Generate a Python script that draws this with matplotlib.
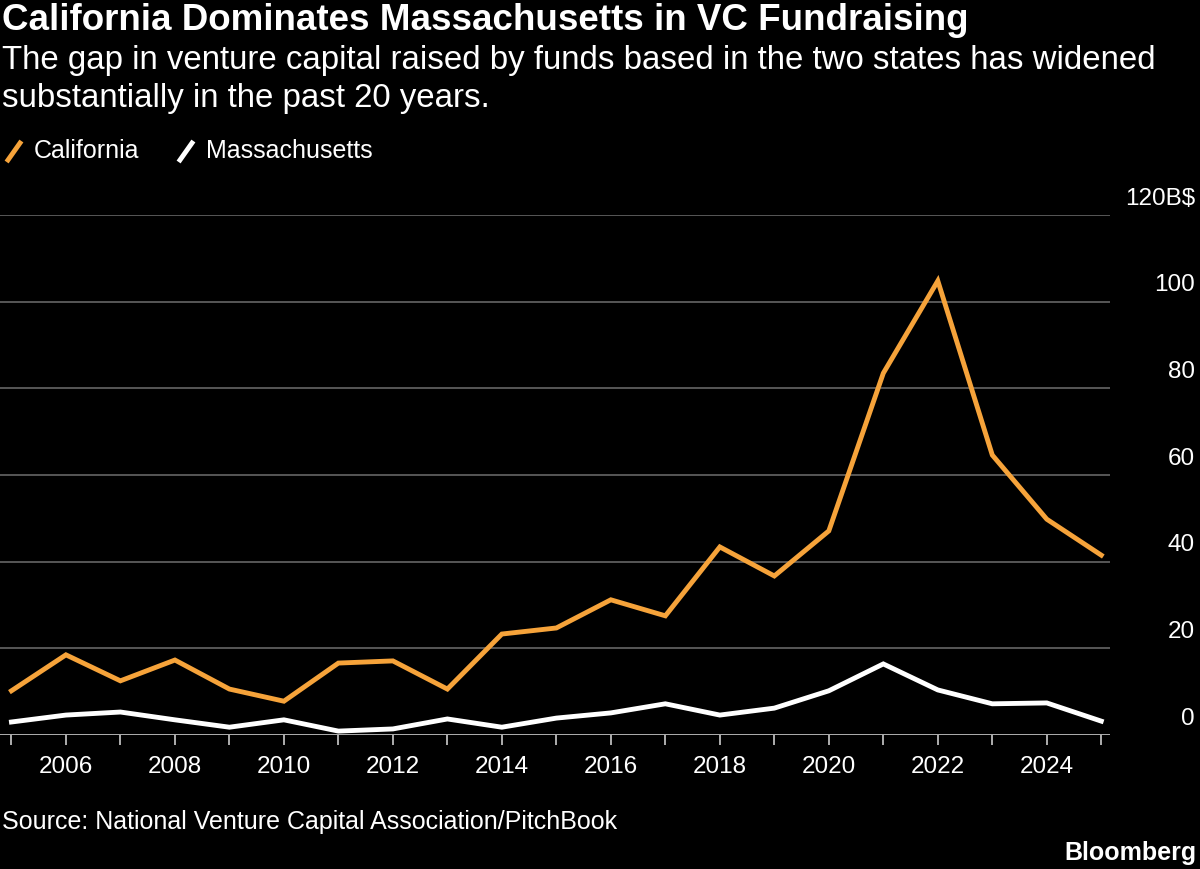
import matplotlib
matplotlib.use("Agg")
import matplotlib.pyplot as plt
from matplotlib.lines import Line2D
import matplotlib.transforms as mt

years = list(range(2005, 2026))
california = [10.2, 18.5, 12.5, 17.3, 10.6, 7.8, 16.6, 17.1, 10.6, 23.3, 24.7, 31.2,
              27.5, 43.4, 36.7, 47.1, 83.5, 104.8, 64.6, 49.8, 41.5]
massachusetts = [3.0, 4.6, 5.3, 3.5, 1.8, 3.5, 0.9, 1.4, 3.7, 1.8, 3.9, 5.1,
                 7.2, 4.6, 6.2, 10.2, 16.4, 10.4, 7.2, 7.4, 3.2]
yticks = [0, 20, 40, 60, 80, 100, 120]
ytick_labels = ["0", "20", "40", "60", "80", "100", "120B$"]
xtick_years = list(range(2006, 2025, 2))

plt.rcParams['font.family'] = ['Liberation Sans', 'DejaVu Sans']
ORANGE = '#f6a33a'
fig = plt.figure(figsize=(12, 8.69), dpi=100, facecolor='black')
ax = fig.add_axes([0, 1 - 735/869, 1110/1200, 520/869])
ax.set_facecolor('black')
ax.set_xlim(2004.79, 2025.16)
ax.set_ylim(0, 120)
for v in yticks[1:]:
    ax.axhline(v, color='#666666', lw=1.2, zorder=1)
ax.axhline(0, color='#cccccc', lw=1.2, zorder=1)
ax.plot(years, california, color=ORANGE, lw=3.5, zorder=3, solid_joinstyle='miter')
ax.plot(years, massachusetts, color='white', lw=3.5, zorder=3, solid_joinstyle='miter')
for s in ax.spines.values():
    s.set_visible(False)
ax.set_yticks([])
ax.set_xticks(years, minor=True)
ax.set_xticks(xtick_years)
ax.set_xticklabels([str(y) for y in xtick_years], color='white', fontsize=17.5)
ax.tick_params(axis='x', which='both', length=7, color='#cccccc', width=1.2, pad=8)
tr = mt.blended_transform_factory(fig.transFigure, ax.transData)
for v, lab in zip(yticks, ytick_labels):
    ax.text(1195/1200, v + 1.2, lab, transform=tr, ha='right', va='bottom',
            color='white', fontsize=17.5)

fig.text(2/1200, 1 - 20/869, "California Dominates Massachusetts in VC Fundraising",
         color='white', fontsize=26.5, fontweight='bold', va='center')
fig.text(2/1200, 1 - 60/869, "The gap in venture capital raised by funds based in the two states has widened",
         color='white', fontsize=23.8, va='center')
fig.text(2/1200, 1 - 98/869, "substantially in the past 20 years.",
         color='white', fontsize=23.8, va='center')
for x0, col, lab in [(8, ORANGE, "California"), (180, 'white', "Massachusetts")]:
    fig.add_artist(Line2D([x0/1200, (x0+12)/1200], [1-160/869, 1-143/869],
                          color=col, lw=3.5, transform=fig.transFigure))
    fig.text((x0+26)/1200, 1-151/869, lab, color='white', fontsize=18, va='center')
fig.text(2/1200, 1 - 822/869, "Source: National Venture Capital Association/PitchBook",
         color='white', fontsize=18, va='center')
fig.text(1196/1200, 1 - 853/869, "Bloomberg", color='white', fontsize=18,
         fontweight='bold', ha='right', va='center')
fig.savefig("out.png", dpi=100, facecolor='black')
